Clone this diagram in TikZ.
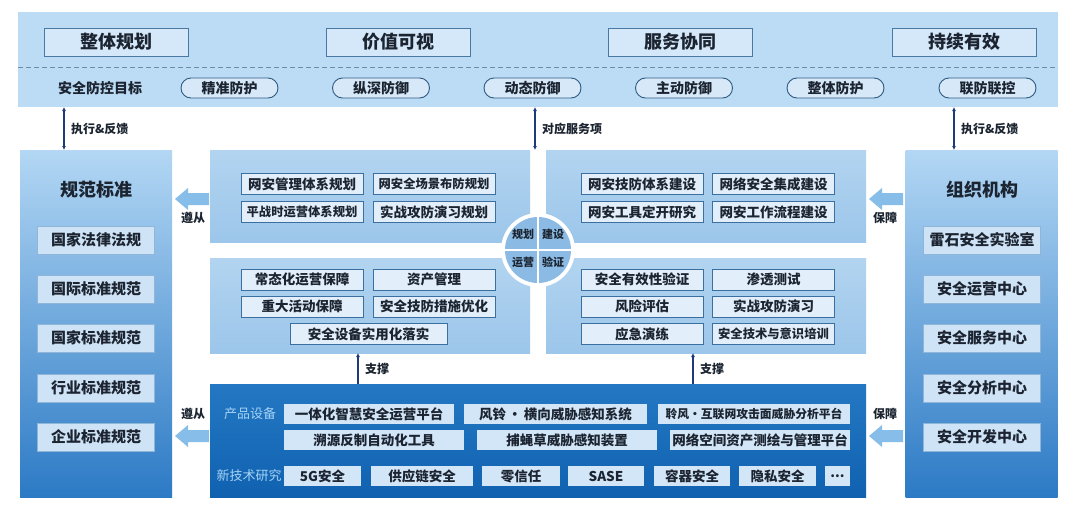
\documentclass[tikz,border=0pt]{standalone}
\usepackage{fontspec}
\setmainfont{Noto Sans CJK SC}
\usetikzlibrary{shapes.misc,arrows.meta}

\definecolor{bandblue}{HTML}{BCDBF5}
\definecolor{boxfill}{HTML}{D5E8FA}
\definecolor{boxline}{HTML}{4A78A2}
\definecolor{pillline}{HTML}{2E5A80}
\definecolor{colltop}{HTML}{B3D7F4}
\definecolor{collbot}{HTML}{2C7AC5}
\definecolor{paneltop}{HTML}{B2D4F0}
\definecolor{panelbot}{HTML}{9CC6EA}
\definecolor{pboxfill}{HTML}{E2EFFB}
\definecolor{pboxline}{HTML}{3A6F9F}
\definecolor{darktop}{HTML}{2478C3}
\definecolor{darkbot}{HTML}{1062B0}
\definecolor{navy}{HTML}{1E3A78}
\definecolor{blkblue}{HTML}{86BEE9}
\definecolor{textdark}{HTML}{1B2430}
\definecolor{lbltxt}{HTML}{A5D3F6}
\definecolor{quadblue}{HTML}{8BBBE4}
\definecolor{itemfill}{HTML}{CFE3F6}
\definecolor{itemline}{HTML}{8FB5D8}
\definecolor{bboxfill}{HTML}{D3E6F8}

\tikzset{
  larrow/.pic={
    \fill[blkblue] (0,0) -- ++(13,-11) -- ++(0,5) -- ++(21,0) -- ++(0,12)
      -- ++(-21,0) -- ++(0,5) -- cycle;
  }
}

\begin{document}
\begin{tikzpicture}[x=1pt,y=-1pt,
  every node/.style={text=textdark},
  head/.style={draw=boxline,line width=0.8pt,fill=boxfill,minimum width=144pt,minimum height=28pt,font=\fontsize{18}{20}\selectfont\bfseries},
  pill/.style={rounded rectangle,draw=pillline,line width=0.9pt,fill=bandblue!60!white,minimum width=99pt,minimum height=20pt,inner sep=1pt,font=\fontsize{14}{16}\selectfont\bfseries},
  colbox/.style={inner sep=0pt,outer sep=0pt,top color=colltop,bottom color=collbot,minimum width=152pt,minimum height=347pt},
  coltitle/.style={font=\fontsize{18}{20}\selectfont\bfseries},
  colitem/.style={draw=itemline,line width=0.8pt,fill=itemfill,minimum width=117pt,minimum height=28pt,inner sep=1pt,font=\fontsize{15}{17}\selectfont\bfseries},
  panel/.style={inner sep=0pt,outer sep=0pt,top color=paneltop,bottom color=panelbot,minimum width=320pt},
  pbox/.style={draw=pboxline,line width=0.8pt,fill=pboxfill,minimum width=122pt,minimum height=21pt,inner sep=1pt,font=\fontsize{13.5}{15}\selectfont\bfseries},
  pboxs/.style={pbox,font=\fontsize{12.3}{14}\selectfont\bfseries},
  bbox/.style={fill=bboxfill,minimum height=20pt,inner sep=1pt,font=\fontsize{13.5}{15}\selectfont\bfseries},
  fb/.style={{Latex[length=4pt,width=4pt]}-{Latex[length=4pt,width=4pt]},navy,line width=1.5pt},
  sup/.style={-{Latex[length=4pt,width=4pt]},navy,line width=1.5pt},
  lbl/.style={font=\fontsize{12}{14}\selectfont\bfseries},
  hublbl/.style={font=\fontsize{11}{13}\selectfont\bfseries}
]
\useasboundingbox[fill=white] (0,0) rectangle (1080,512);

% top band: goals
\node[fill=bandblue,minimum width=1040pt,minimum height=95pt,inner sep=0pt,outer sep=0pt] (band) at (538,59.5) {};
\coordinate (dl) at (18,67);
\draw[pillline!70,line width=0.8pt,dash pattern=on 5pt off 3pt] (dl) -- (dl -| band.east);

\node[head] (h1) at (116,42) {整体规划};
\node[head] (h2) at (398,42) {价值可视};
\node[head] (h3) at (680,42) {服务协同};
\node[head] (h4) at (964,42) {持续有效};

\node[font=\fontsize{14}{16}\selectfont\bfseries] (goal) at (100,88) {安全防控目标};
\node[pill] (g1) at (229.5,88) {精准防护};
\node[pill] (g2) at (381,88) {纵深防御};
\node[pill] (g3) at (532.5,88) {动态防御};
\node[pill] (g4) at (684,88) {主动防御};
\node[pill] (g5) at (835.5,88) {整体防护};
\node[pill] (g6) at (987.5,88) {联防联控};

% left column
\node[colbox] (lcol) at (96,323.5) {};
\node[coltitle] (lt) at (96,190) {规范标准};
\node[colitem] (l1) at (96,240) {国家法律法规};
\node[colitem] (l2) at (96,289) {国际标准规范};
\node[colitem] (l3) at (96,338) {国家标准规范};
\node[colitem] (l4) at (96,388) {行业标准规范};
\node[colitem] (l5) at (96,437) {企业标准规范};

% right column
\node[colbox] (rcol) at (981.5,323.5) {};
\node[coltitle] (rt) at (982,190) {组织机构};
\node[colitem] (r1) at (982,240) {雷石安全实验室};
\node[colitem] (r2) at (982,289) {安全运营中心};
\node[colitem] (r3) at (982,338) {安全服务中心};
\node[colitem] (r4) at (982,388) {安全分析中心};
\node[colitem] (r5) at (982,437) {安全开发中心};

% middle panels
\node[panel,minimum height=92pt] (pul) at (370,196) {};
\node[panel,minimum height=92pt] (pur) at (706,196) {};
\node[panel,minimum height=95pt] (pll) at (370,305.5) {};
\node[panel,minimum height=95pt] (plr) at (706,305.5) {};

\node[pbox] (a1) at (302,184) {网安管理体系规划};
\node[pboxs] (a2) at (434,184) {网安全场景布防规划};
\node[pboxs] (a3) at (302,212) {平战时运营体系规划};
\node[pbox] (a4) at (434,212) {实战攻防演习规划};

\node[pbox] (b1) at (642,184) {网安技防体系建设};
\node[pbox] (b2) at (773.5,184) {网络安全集成建设};
\node[pbox] (b3) at (642,212) {网安工具定开研究};
\node[pbox] (b4) at (773.5,212) {网安工作流程建设};

\node[pbox] (c1) at (302,279.5) {常态化运营保障};
\node[pbox] (c2) at (434,279.5) {资产管理};
\node[pbox] (c3) at (302,306.5) {重大活动保障};
\node[pbox] (c4) at (434,306.5) {安全技防措施优化};
\node[pbox,minimum width=157pt] (c5) at (368.5,334) {安全设备实用化落实};

\node[pbox] (d1) at (642,279.5) {安全有效性验证};
\node[pbox] (d2) at (773.5,279.5) {渗透测试};
\node[pbox] (d3) at (642,306.5) {风险评估};
\node[pbox] (d4) at (773.5,306.5) {实战攻防演习};
\node[pbox] (d5) at (642,334) {应急演练};
\node[pboxs] (d6) at (773.5,334) {安全技术与意识培训};

% hub
\node[circle,fill=white,minimum size=74pt,inner sep=0pt] (hub) at (538,250) {};
\node[circle,fill=quadblue,minimum size=66pt,inner sep=0pt] (hubin) at (538,250) {};
\draw[white,line width=2pt] (hubin.west) -- (hubin.east);
\draw[white,line width=2pt] (hubin.north) -- (hubin.south);
\node[hublbl] (q1) at (523,234) {规划};
\node[hublbl] (q2) at (553,234) {建设};
\node[hublbl] (q3) at (523,262) {运营};
\node[hublbl] (q4) at (553,262) {验证};

% bottom panel
\node[inner sep=0pt,outer sep=0pt,top color=darktop,bottom color=darkbot,minimum width=656pt,minimum height=113pt] (bpan) at (538,440.5) {};
\node[text=lbltxt,font=\fontsize{13}{15}\selectfont] (prod) at (250,414) {产品设备};
\node[text=lbltxt,font=\fontsize{13}{15}\selectfont] (tech) at (249,476) {新技术研究};

\node[bbox,minimum width=170pt] (e1) at (369,414) {一体化智慧安全运营平台};
\node[bbox,minimum width=183pt] (e2) at (555.5,414) {风铃\,·\,横向威胁感知系统};
\node[bbox,minimum width=192pt,font=\fontsize{11.8}{13}\selectfont\bfseries] (e3) at (754,414) {聆风·互联网攻击面威胁分析平台};
\node[bbox,minimum width=180pt] (e4) at (374,440) {溯源反制自动化工具};
\node[bbox,minimum width=180pt] (e5) at (567,440) {捕蝇草威胁感知装置};
\node[bbox,minimum width=180pt] (e6) at (760,440) {网络空间资产测绘与管理平台};

\node[bbox,minimum width=77pt] (t1) at (322.5,476) {5G安全};
\node[bbox,minimum width=102pt] (t2) at (422,476) {供应链安全};
\node[bbox,minimum width=78pt] (t3) at (521,476) {零信任};
\node[bbox,minimum width=76pt] (t4) at (606,476) {SASE};
\node[bbox,minimum width=76pt] (t5) at (692,476) {容器安全};
\node[bbox,minimum width=77pt] (t6) at (777.5,476) {隐私安全};
\node[bbox,minimum width=25pt] (t7) at (837.5,476) {...};

% connectors
\draw[fb] (band.south -| 64,0) -- (lcol.north -| 64,0) node[midway,right,xshift=3pt,lbl] (f1) {执行\&反馈};
\draw[fb] (band.south -| 535,0) -- (pul.north -| 535,0) node[midway,right,xshift=3pt,lbl] (f2) {对应服务项};
\draw[fb] (band.south -| 954,0) -- (rcol.north -| 954,0) node[midway,right,xshift=3pt,lbl] (f3) {执行\&反馈};

\draw[sup] (bpan.north -| 358,0) -- (pll.south -| 358,0) node[midway,right,xshift=3pt,lbl] (s1) {支撑};
\draw[sup] (bpan.north -| 693,0) -- (plr.south -| 693,0) node[midway,right,xshift=3pt,lbl] (s2) {支撑};

\pic at (175,199) {larrow};
\node[lbl] (z1) at (193,218) {遵从};
\pic at (869,199) {larrow};
\node[lbl] (z2) at (885,218) {保障};
\pic at (175,436) {larrow};
\node[lbl] (z3) at (193,414) {遵从};
\pic at (869,436) {larrow};
\node[lbl] (z4) at (885,414) {保障};
\end{tikzpicture}
\end{document}
